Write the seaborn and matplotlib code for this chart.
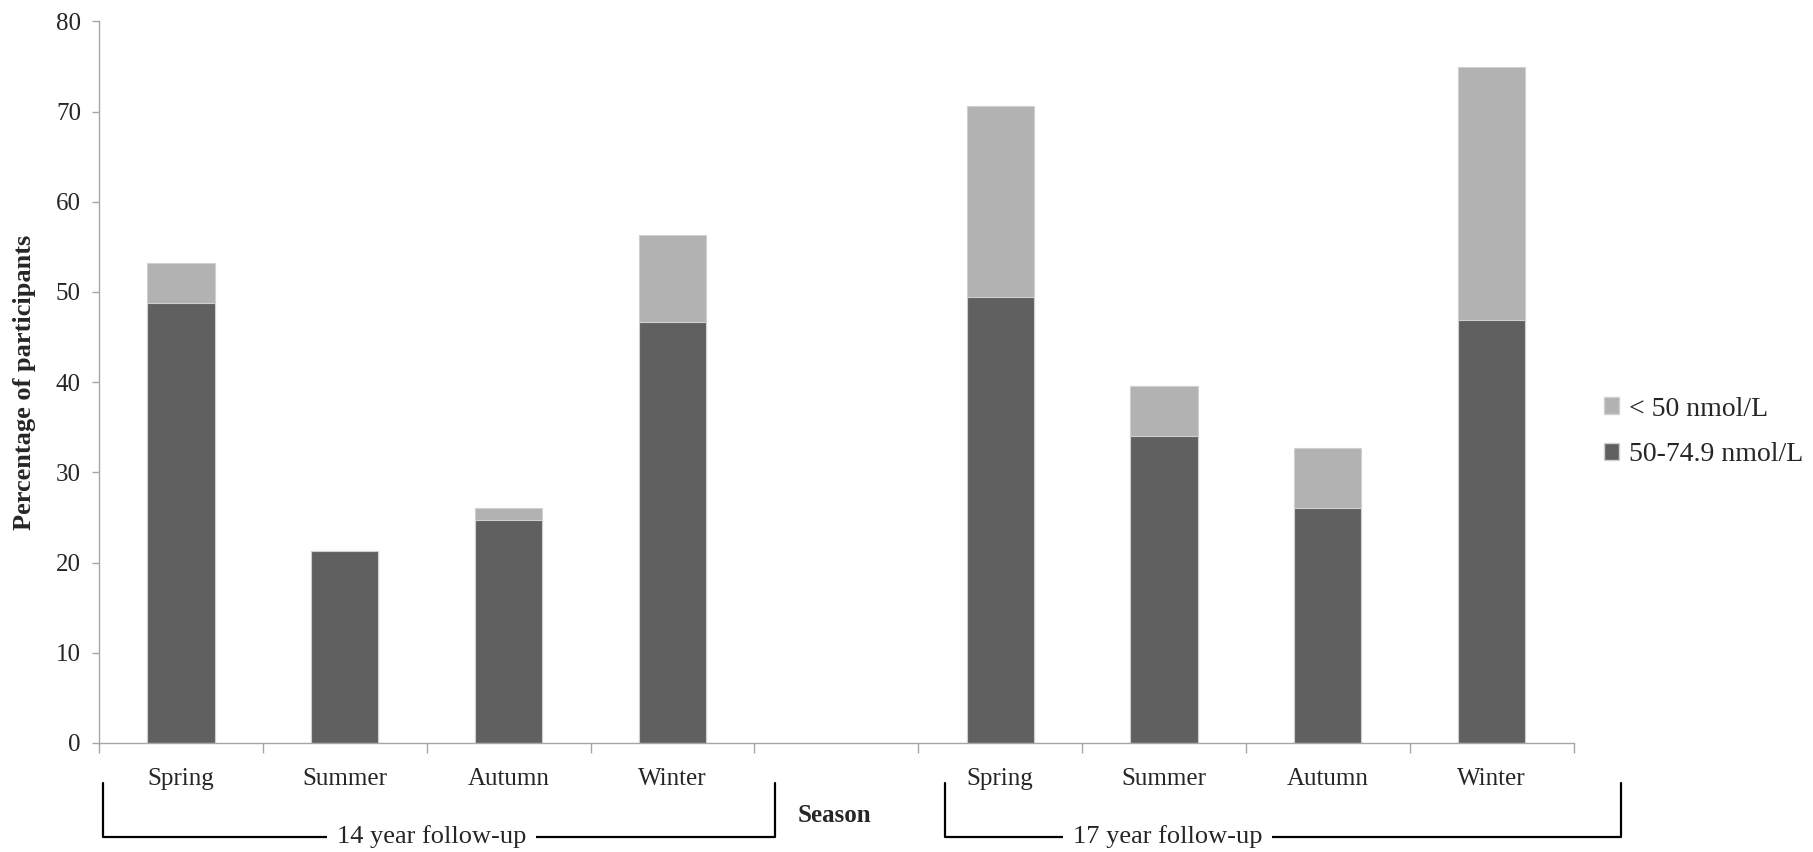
import numpy as np
import pandas as pd
import matplotlib
matplotlib.use("Agg")
import matplotlib.pyplot as plt
from matplotlib.lines import Line2D
from matplotlib.patches import Patch
import seaborn as sns

# Donnees
slots = ["14-Spring", "14-Summer", "14-Autumn", "14-Winter", "gap",
         "17-Spring", "17-Summer", "17-Autumn", "17-Winter"]
tick_labels = ["Spring", "Summer", "Autumn", "Winter", "",
               "Spring", "Summer", "Autumn", "Winter"]
moderate = [48.8, 21.3, 24.7, 46.7, 49.4, 34.0, 26.1, 46.9]   # 50-74.9 nmol/L
deficient = [4.4, 0.0, 1.3, 9.6, 21.2, 5.6, 6.6, 28.0]        # < 50 nmol/L
bar_slots = [s for s in slots if s != "gap"]

df = pd.DataFrame({
    "slot": bar_slots,
    "moderate": moderate,
    "total": np.array(moderate) + np.array(deficient),
})

sns.set_style("white")
plt.rcParams["font.family"] = ["Liberation Serif", "DejaVu Serif"]

dark = "#606060"
light = "#b2b2b2"
axis_col = "#a6a6a6"

fig = plt.figure(figsize=(18.13, 8.52), dpi=100)
ax = fig.add_axes([0.0546, 0.128, 0.8134, 0.847])

# barre totale (claire) derriere, puis la partie foncee
sns.barplot(data=df, x="slot", y="total", order=slots, color=light,
            width=0.41, edgecolor="#d0d0d0", linewidth=0.8, ax=ax)
sns.barplot(data=df, x="slot", y="moderate", order=slots, color=dark,
            width=0.41, edgecolor="#d0d0d0", linewidth=0.8, ax=ax)

ax.set_ylim(0, 80)
ax.set_xlim(-0.5, len(slots) - 0.5)
ax.set_yticks(np.arange(0, 81, 10))
ax.tick_params(axis="y", labelsize=18, length=5, width=1, color=axis_col,
               pad=8, direction="out", left=True)

# ticks entre les categories, etiquettes au centre
ax.set_xticks(np.arange(-0.5, len(slots), 1.0))
ax.set_xticklabels([])
ax.set_xticks(np.arange(len(slots)), minor=True)
ax.set_xticklabels(tick_labels, minor=True)
ax.tick_params(axis="x", which="major", length=7, width=1, color=axis_col,
               direction="out", bottom=True)
ax.tick_params(axis="x", which="minor", length=0, labelsize=18, pad=18)

for side in ["top", "right"]:
    ax.spines[side].set_visible(False)
for side in ["left", "bottom"]:
    ax.spines[side].set_color(axis_col)
    ax.spines[side].set_linewidth(1)

ax.set_xlabel("")
ax.set_ylabel("Percentage of participants", fontsize=19, fontweight="bold")
ax.yaxis.set_label_coords(-0.043, 0.5)

# legende
handles = [Patch(facecolor=light, edgecolor="#d0d0d0", label="< 50 nmol/L"),
           Patch(facecolor=dark, edgecolor="#d0d0d0", label="50-74.9 nmol/L")]
fig.legend(handles=handles, loc="center left", bbox_to_anchor=(0.871, 0.493),
           frameon=False, fontsize=20, handlelength=0.55, handleheight=0.55,
           handletextpad=0.35, labelspacing=0.75)

# crochets des suivis
def bracket(x0, x1, ytop, ybot, label, xtext):
    fig.add_artist(Line2D([x0, x0, x1, x1], [ytop, ybot, ybot, ytop],
                          transform=fig.transFigure, color="black", lw=1.6))
    fig.text(xtext, ybot, label, ha="center", va="center", fontsize=19,
             bbox=dict(facecolor="white", edgecolor="none", pad=7))

bracket(0.0568, 0.4275, 0.081, 0.0176, "14 year follow-up", 0.238)
bracket(0.521, 0.894, 0.081, 0.0176, "17 year follow-up", 0.644)

fig.text(0.4605, 0.043, "Season", ha="center", va="center", fontsize=18,
         fontweight="bold")

plt.savefig("out.png", dpi=100)
